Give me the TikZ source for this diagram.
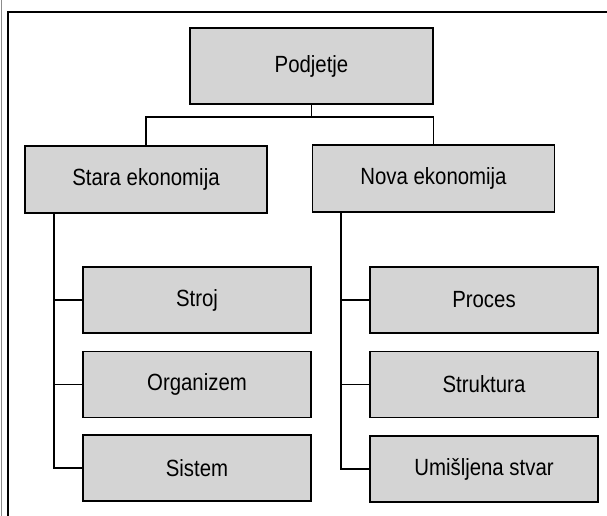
\documentclass[tikz,border=0pt]{standalone}
\usepackage{fontspec}
\setmainfont[FakeStretch=0.87]{Liberation Sans}
\begin{document}
\begin{tikzpicture}[x=0.03cm, y=-0.03cm,
  every node/.style={font=\fontsize{20}{22}\selectfont},
  box/.style={draw, line width=1.1pt, fill=black!17, inner sep=0pt},
  top/.style={box, minimum width=7.29cm, minimum height=2.28cm},
  mid/.style={box, minimum width=7.26cm, minimum height=2.01cm},
  leaf/.style={box, minimum width=6.84cm, minimum height=1.98cm},
  con/.style={line width=0.9pt}]
\useasboundingbox (0,0) rectangle (607,516);
% frame
\draw[line width=0.8pt, black!45] (1,0) -- (1,516);
\draw[line width=1.1pt] (8,516) -- (8,12) -- (607,12);
% top level
\node[top] (podjetje) at (311.5,66) {Podjetje};
% second level
\node[mid] (stara) at (146,179.5) {Stara ekonomija};
\node[mid] (nova) at (433.5,178.5) {Nova ekonomija};
% leaves
\node[leaf] (stroj) at (197,300) {Stroj};
\node[leaf] (organizem) at (197,384.5) {Organizem};
\node[leaf] (sistem) at (197,468) {Sistem};
\node[leaf] (proces) at (484,300) {Proces};
\node[leaf] (struktura) at (484,384.5) {Struktura};
\node[leaf] (stvar) at (484,469) {Umišljena stvar};
% edges
\coordinate (split) at (311.5,117);
\coordinate (lbus) at (54,0);
\coordinate (rbus) at (341,0);
\draw[con] (podjetje) -- (split) -| (stara);
\draw[con] (split) -| (nova);
\draw[con] (stara.south -| lbus) |- (stroj.west);
\draw[con] (stara.south -| lbus) |- (organizem.west);
\draw[con] (stara.south -| lbus) |- (sistem.west);
\draw[con] (nova.south -| rbus) |- (proces.west);
\draw[con] (nova.south -| rbus) |- (struktura.west);
\draw[con] (nova.south -| rbus) |- (stvar.west);
\end{tikzpicture}
\end{document}
